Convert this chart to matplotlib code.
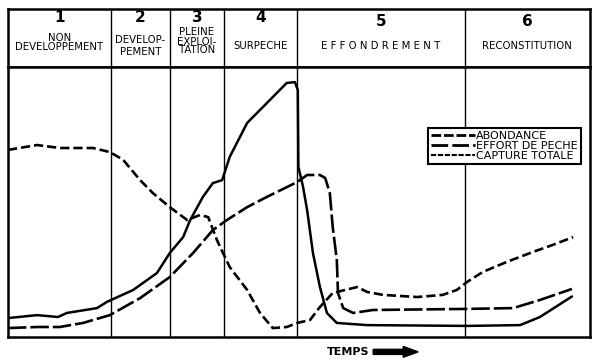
import matplotlib.pyplot as plt
from matplotlib.lines import Line2D
from matplotlib.patches import FancyArrow

# Phases (limites en unites de temps, 0-100)
phase_bounds = [0, 17.7, 27.8, 37.1, 49.7, 78.5, 100]
phase_nums = ['1', '2', '3', '4', '5', '6']

# Courbes (temps, niveau 0-100)
t_abond = [0, 5.0, 8.9, 14.6, 17.5, 19.8, 22.7, 24.9, 27.8, 30.8, 33.0, 34.4, 35.9,
           38.1, 41.1, 43.3, 45.5, 47.9, 49.7, 51.9, 53.6, 55.8, 60.0, 61.7, 64.4,
           70.3, 74.7, 77.1, 78.9, 81.6, 85.7, 90.2, 93.6, 97.1]
abondance = [69.3, 71.1, 70.0, 70.0, 68.5, 65.6, 58.1, 53.3, 48.1, 43.3, 45.2, 44.4, 35.9,
             25.9, 17.4, 8.9, 3.3, 3.7, 5.2, 6.3, 11.1, 16.3, 18.5, 16.7, 15.6,
             14.8, 15.6, 17.4, 20.4, 24.1, 27.8, 31.5, 34.1, 37.0]

t_effort = [0, 5.0, 8.9, 12.9, 17.5, 22.7, 27.8, 31.8, 35.2, 37.6, 41.1, 44.5, 49.7,
            51.4, 53.6, 54.5, 55.3, 55.8, 56.5, 56.7, 57.6, 59.3, 62.7, 78.9, 86.8,
            91.4, 96.9]
effort = [3.3, 3.7, 3.7, 5.2, 8.1, 14.4, 22.2, 31.1, 39.6, 43.3, 48.1, 51.9, 57.4,
          60.0, 60.0, 58.9, 53.3, 40.7, 28.5, 16.3, 10.7, 8.9, 10.0, 10.4, 10.7,
          13.7, 17.8]

t_capture = [0, 5.0, 8.6, 10.1, 15.3, 17.0, 21.5, 25.6, 27.8, 30.1, 31.3, 33.5, 35.2,
             36.8, 38.1, 41.1, 44.5, 47.9, 49.3, 49.8, 49.9, 50.7, 51.4, 52.4, 53.6,
             54.8, 56.5, 61.7, 78.9, 88.0, 91.4, 96.9]
capture = [7.0, 8.1, 7.4, 8.9, 10.7, 13.0, 17.4, 23.7, 31.1, 37.0, 43.3, 51.9, 57.0,
           58.1, 66.7, 79.3, 86.7, 94.1, 94.4, 91.5, 63.0, 55.6, 47.0, 31.1, 18.5,
           8.9, 5.2, 4.4, 4.1, 4.4, 7.4, 15.0]

narrow = ['Liberation Sans Narrow', 'DejaVu Sans']

fig = plt.figure(figsize=(6, 3.62), dpi=100)

# --- bandeau des phases ---
hx = fig.add_axes([0.0133, 0.8149, 0.97, 0.160])
hx.set_xlim(0, 100)
hx.set_ylim(0, 1)
hx.set_xticks([])
hx.set_yticks([])
for s in hx.spines.values():
    s.set_linewidth(1.8)
for b in phase_bounds[1:-1]:
    hx.axvline(b, color='black', lw=1.0)

centers = [(phase_bounds[i] + phase_bounds[i + 1]) / 2 for i in range(6)]
num_y = [0.86, 0.86, 0.86, 0.86, 0.78, 0.78]
for c, n, y in zip(centers, phase_nums, num_y):
    hx.text(c, y, n, ha='center', va='center', fontsize=11, fontweight='bold',
            family='DejaVu Sans')

labels = [
    (centers[0], 0.50, 'NON'), (centers[0], 0.34, 'DEVELOPPEMENT'),
    (centers[1], 0.47, 'DEVELOP-'), (centers[1], 0.26, 'PEMENT'),
    (centers[2], 0.60, 'PLEINE'), (centers[2], 0.44, 'EXPLOI-'), (centers[2], 0.29, 'TATION'),
    (centers[3], 0.36, 'SURPECHE'),
    (centers[4], 0.36, 'E F F O N D R E M E N T'),
    (centers[5], 0.36, 'RECONSTITUTION'),
]
for x, y, s in labels:
    hx.text(x, y, s, ha='center', va='center', fontsize=7.3, family=narrow)

# --- graphique principal ---
ax = fig.add_axes([0.0133, 0.0691, 0.97, 0.7458])
ax.set_xlim(0, 100)
ax.set_ylim(0, 100)
ax.set_xticks([])
ax.set_yticks([])
for s in ax.spines.values():
    s.set_linewidth(1.8)
for b in phase_bounds[1:-1]:
    ax.axvline(b, color='black', lw=1.0)

ax.plot(t_abond, abondance, color='black', lw=1.9, dashes=(3.5, 1.5),
        solid_joinstyle='round')
ax.plot(t_effort, effort, color='black', lw=1.9, dashes=(7, 1.5),
        solid_joinstyle='round')
ax.plot(t_capture, capture, color='black', lw=1.8, solid_joinstyle='round',
        solid_capstyle='round')

handles = [
    Line2D([], [], color='black', lw=2.0, dashes=(3.5, 1)),
    Line2D([], [], color='black', lw=2.0, dashes=(6, 1.5)),
    Line2D([], [], color='black', lw=1.5, dashes=(2.5, 0.8)),
]
leg = ax.legend(handles, ['ABONDANCE', 'EFFORT DE PECHE', 'CAPTURE TOTALE'],
                loc='upper left', bbox_to_anchor=(0.712, 0.795),
                prop={'family': narrow, 'size': 8}, handlelength=4.0,
                handletextpad=0.1, labelspacing=0.02, borderpad=0.25,
                fancybox=False, framealpha=1, edgecolor='black')
leg.get_frame().set_linewidth(1.5)

# --- TEMPS ---
fig.text(0.58, 0.028, 'TEMPS', ha='center', va='center', fontsize=8,
         fontweight='bold', family='DejaVu Sans')
fig.patches.append(FancyArrow(
    0.622, 0.028, 0.075, 0, width=0.014, head_width=0.03, head_length=0.025,
    length_includes_head=True, color='black', transform=fig.transFigure))

fig.savefig('out.png', dpi=100, facecolor='white')
